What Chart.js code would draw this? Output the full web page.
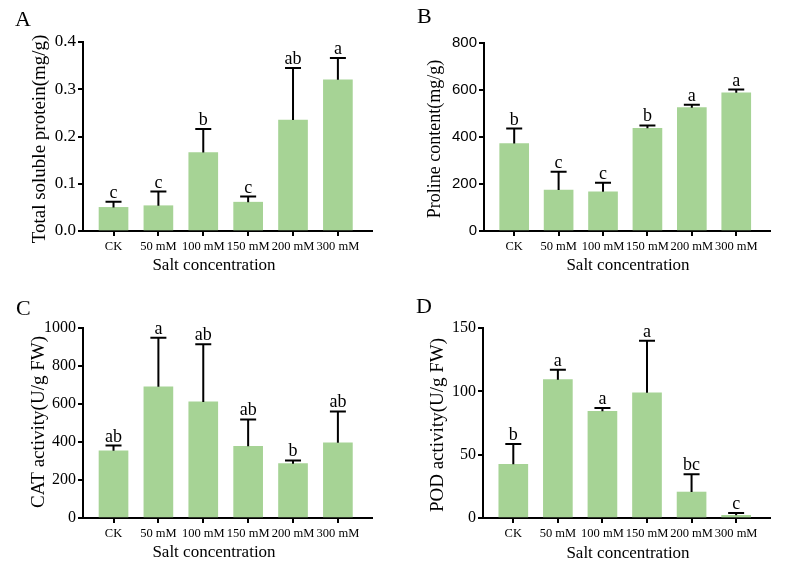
<!DOCTYPE html>
<html>
<head>
<meta charset="utf-8">
<script src="https://cdn.jsdelivr.net/npm/chart.js@4.4.1/dist/chart.umd.min.js"></script>
<style>
html, body { margin: 0; padding: 0; background: #fff; }
#wrap { position: relative; width: 785px; height: 567px; overflow: hidden; }
.panel { position: absolute; }
</style>
</head>
<body>
<div id="wrap">
  <div class="panel" style="left:0;top:0;width:390px;height:280px"><canvas id="chA"></canvas></div>
  <div class="panel" style="left:390px;top:0;width:395px;height:280px"><canvas id="chB"></canvas></div>
  <div class="panel" style="left:0;top:280px;width:390px;height:287px"><canvas id="chC"></canvas></div>
  <div class="panel" style="left:390px;top:280px;width:395px;height:287px"><canvas id="chD"></canvas></div>
</div>
<script>
var categories = ['CK', '50 mM', '100 mM', '150 mM', '200 mM', '300 mM'];

// A: total soluble protein
var proteinMean = [0.050, 0.0535, 0.166, 0.061, 0.235, 0.320];
var proteinSd = [0.012, 0.030, 0.050, 0.012, 0.110, 0.046];
var proteinLetters = ['c', 'c', 'b', 'c', 'ab', 'a'];

// B: proline
var prolineMean = [372, 174, 167, 437, 525, 588];
var prolineSd = [64, 78, 38, 12, 12, 14];
var prolineLetters = ['b', 'c', 'c', 'b', 'a', 'a'];

// C: CAT
var catMean = [354, 691, 611, 377, 286, 396];
var catSd = [27, 258, 303, 142, 17, 165];
var catLetters = ['ab', 'a', 'ab', 'ab', 'b', 'ab'];

// D: POD
var podMean = [42.4, 109.2, 84.2, 98.9, 20.5, 2.1];
var podSd = [16, 7.8, 2.6, 41, 14, 1.8];
var podLetters = ['b', 'a', 'a', 'a', 'bc', 'c'];

var SERIF = '"Liberation Serif", "Times New Roman", serif';
var SANS = '"Liberation Sans", Arial, sans-serif';
var barColor = '#a6d395';

var extras = {
    id: 'extras',
    afterDatasetsDraw: function(chart, args, o) {
        var ctx = chart.ctx;
        var y = chart.scales.y;
        var bars = chart.getDatasetMeta(0).data;
        ctx.save();
        ctx.strokeStyle = '#000';
        ctx.fillStyle = '#000';
        ctx.lineWidth = 2;
        ctx.font = '18px ' + SERIF;
        ctx.textAlign = 'center';
        ctx.textBaseline = 'alphabetic';
        for (var i = 0; i < bars.length; i++) {
            var x = bars[i].x;
            var y0 = y.getPixelForValue(o.mean[i]);
            var y1 = y.getPixelForValue(o.mean[i] + o.sd[i]);
            ctx.beginPath();
            ctx.moveTo(x, y0);
            ctx.lineTo(x, y1);
            ctx.moveTo(x - 8, y1);
            ctx.lineTo(x + 8, y1);
            ctx.stroke();
            ctx.fillText(o.letters[i], x, y1 - 4);
        }

        // panel letter
        ctx.textAlign = 'left';
        ctx.font = '22px ' + SERIF;
        ctx.fillText(o.panel, o.panelX, o.panelY);

        // x title
        ctx.textAlign = 'center';
        ctx.font = '17px ' + SERIF;
        ctx.fillText('Salt concentration', o.xTitleX, o.xTitleY);

        // y title
        ctx.translate(o.yTitleX, o.yTitleY);
        ctx.rotate(-Math.PI / 2);
        ctx.font = o.yTitleSize + 'px ' + SERIF;
        ctx.fillText(o.yTitle, 0, 0);
        ctx.restore();
    }
};

function grafico(id, mean, sd, letters, p) {
    var data = [];
    for (var i = 0; i < mean.length; i++) data.push({ x: i, y: mean[i] });
    var W = p.w, H = p.h;
    return new Chart(document.getElementById(id), {
        type: 'bar',
        data: {
            datasets: [{
                data: data,
                backgroundColor: barColor,
                borderWidth: 0,
                barThickness: 29
            }]
        },
        options: {
            responsive: true,
            maintainAspectRatio: false,
            animation: false,
            layout: { padding: { left: 0, top: p.top, right: W - p.right, bottom: 0 } },
            plugins: {
                legend: { display: false },
                tooltip: { enabled: false },
                extras: {
                    mean: mean, sd: sd, letters: letters,
                    panel: p.panel, panelX: p.panelX, panelY: p.panelY,
                    xTitleX: p.xTitleX, xTitleY: p.xTitleY,
                    yTitle: p.yTitle, yTitleX: p.yTitleX, yTitleY: p.yTitleY, yTitleSize: p.yTitleSize
                }
            },
            scales: {
                x: {
                    type: 'linear',
                    min: -0.68, max: 5.76,
                    offset: false,
                    afterBuildTicks: function(s) {
                        s.ticks = categories.map(function(c, i) { return { value: i }; });
                    },
                    afterFit: function(s) { s.height = H - p.bottom; },
                    ticks: {
                        autoSkip: false, maxRotation: 0, padding: 3, color: '#000',
                        font: { family: SERIF, size: 12.5 },
                        callback: function(v) { return categories[v]; }
                    },
                    grid: { display: true, offset: false, drawOnChartArea: false, drawTicks: true, tickLength: 5, color: '#000', lineWidth: 2 },
                    border: { display: true, color: '#000', width: 2 }
                },
                y: {
                    min: 0, max: p.yMax,
                    afterFit: function(s) { s.width = p.left; },
                    ticks: {
                        stepSize: p.step, padding: 2, color: '#000',
                        font: { family: p.tickFamily, size: p.tickSize },
                        callback: p.fmt
                    },
                    grid: { display: true, drawOnChartArea: false, drawTicks: true, tickLength: 5, color: '#000', lineWidth: 2 },
                    border: { display: true, color: '#000', width: 2 }
                }
            }
        },
        plugins: [extras]
    });
}

grafico('chA', proteinMean, proteinSd, proteinLetters, {
    w: 390, h: 280, left: 83, right: 372, top: 42, bottom: 231,
    yMax: 0.4, step: 0.1, tickFamily: SERIF, tickSize: 17,
    fmt: function(v) { return v.toFixed(1); },
    panel: 'A', panelX: 15, panelY: 26,
    xTitleX: 214, xTitleY: 270,
    yTitle: 'Total soluble protein(mg/g)', yTitleX: 45, yTitleY: 139, yTitleSize: 19
});

grafico('chB', prolineMean, prolineSd, prolineLetters, {
    w: 395, h: 280, left: 94, right: 380, top: 43, bottom: 231,
    yMax: 800, step: 200, tickFamily: SANS, tickSize: 15,
    fmt: function(v) { return v; },
    panel: 'B', panelX: 27, panelY: 23,
    xTitleX: 238, xTitleY: 270,
    yTitle: 'Proline content(mg/g)', yTitleX: 50, yTitleY: 139, yTitleSize: 18
});

grafico('chC', catMean, catSd, catLetters, {
    w: 390, h: 287, left: 83, right: 372, top: 48, bottom: 238,
    yMax: 1000, step: 200, tickFamily: SERIF, tickSize: 16,
    fmt: function(v) { return v; },
    panel: 'C', panelX: 16, panelY: 35,
    xTitleX: 214, xTitleY: 277,
    yTitle: 'CAT activity(U/g FW)', yTitleX: 44, yTitleY: 142, yTitleSize: 19
});

grafico('chD', podMean, podSd, podLetters, {
    w: 395, h: 287, left: 93, right: 380, top: 48, bottom: 238,
    yMax: 150, step: 50, tickFamily: SERIF, tickSize: 16,
    fmt: function(v) { return v; },
    panel: 'D', panelX: 26, panelY: 33,
    xTitleX: 238, xTitleY: 278,
    yTitle: 'POD activity(U/g FW)', yTitleX: 53, yTitleY: 145, yTitleSize: 19
});
</script>
</body>
</html>
